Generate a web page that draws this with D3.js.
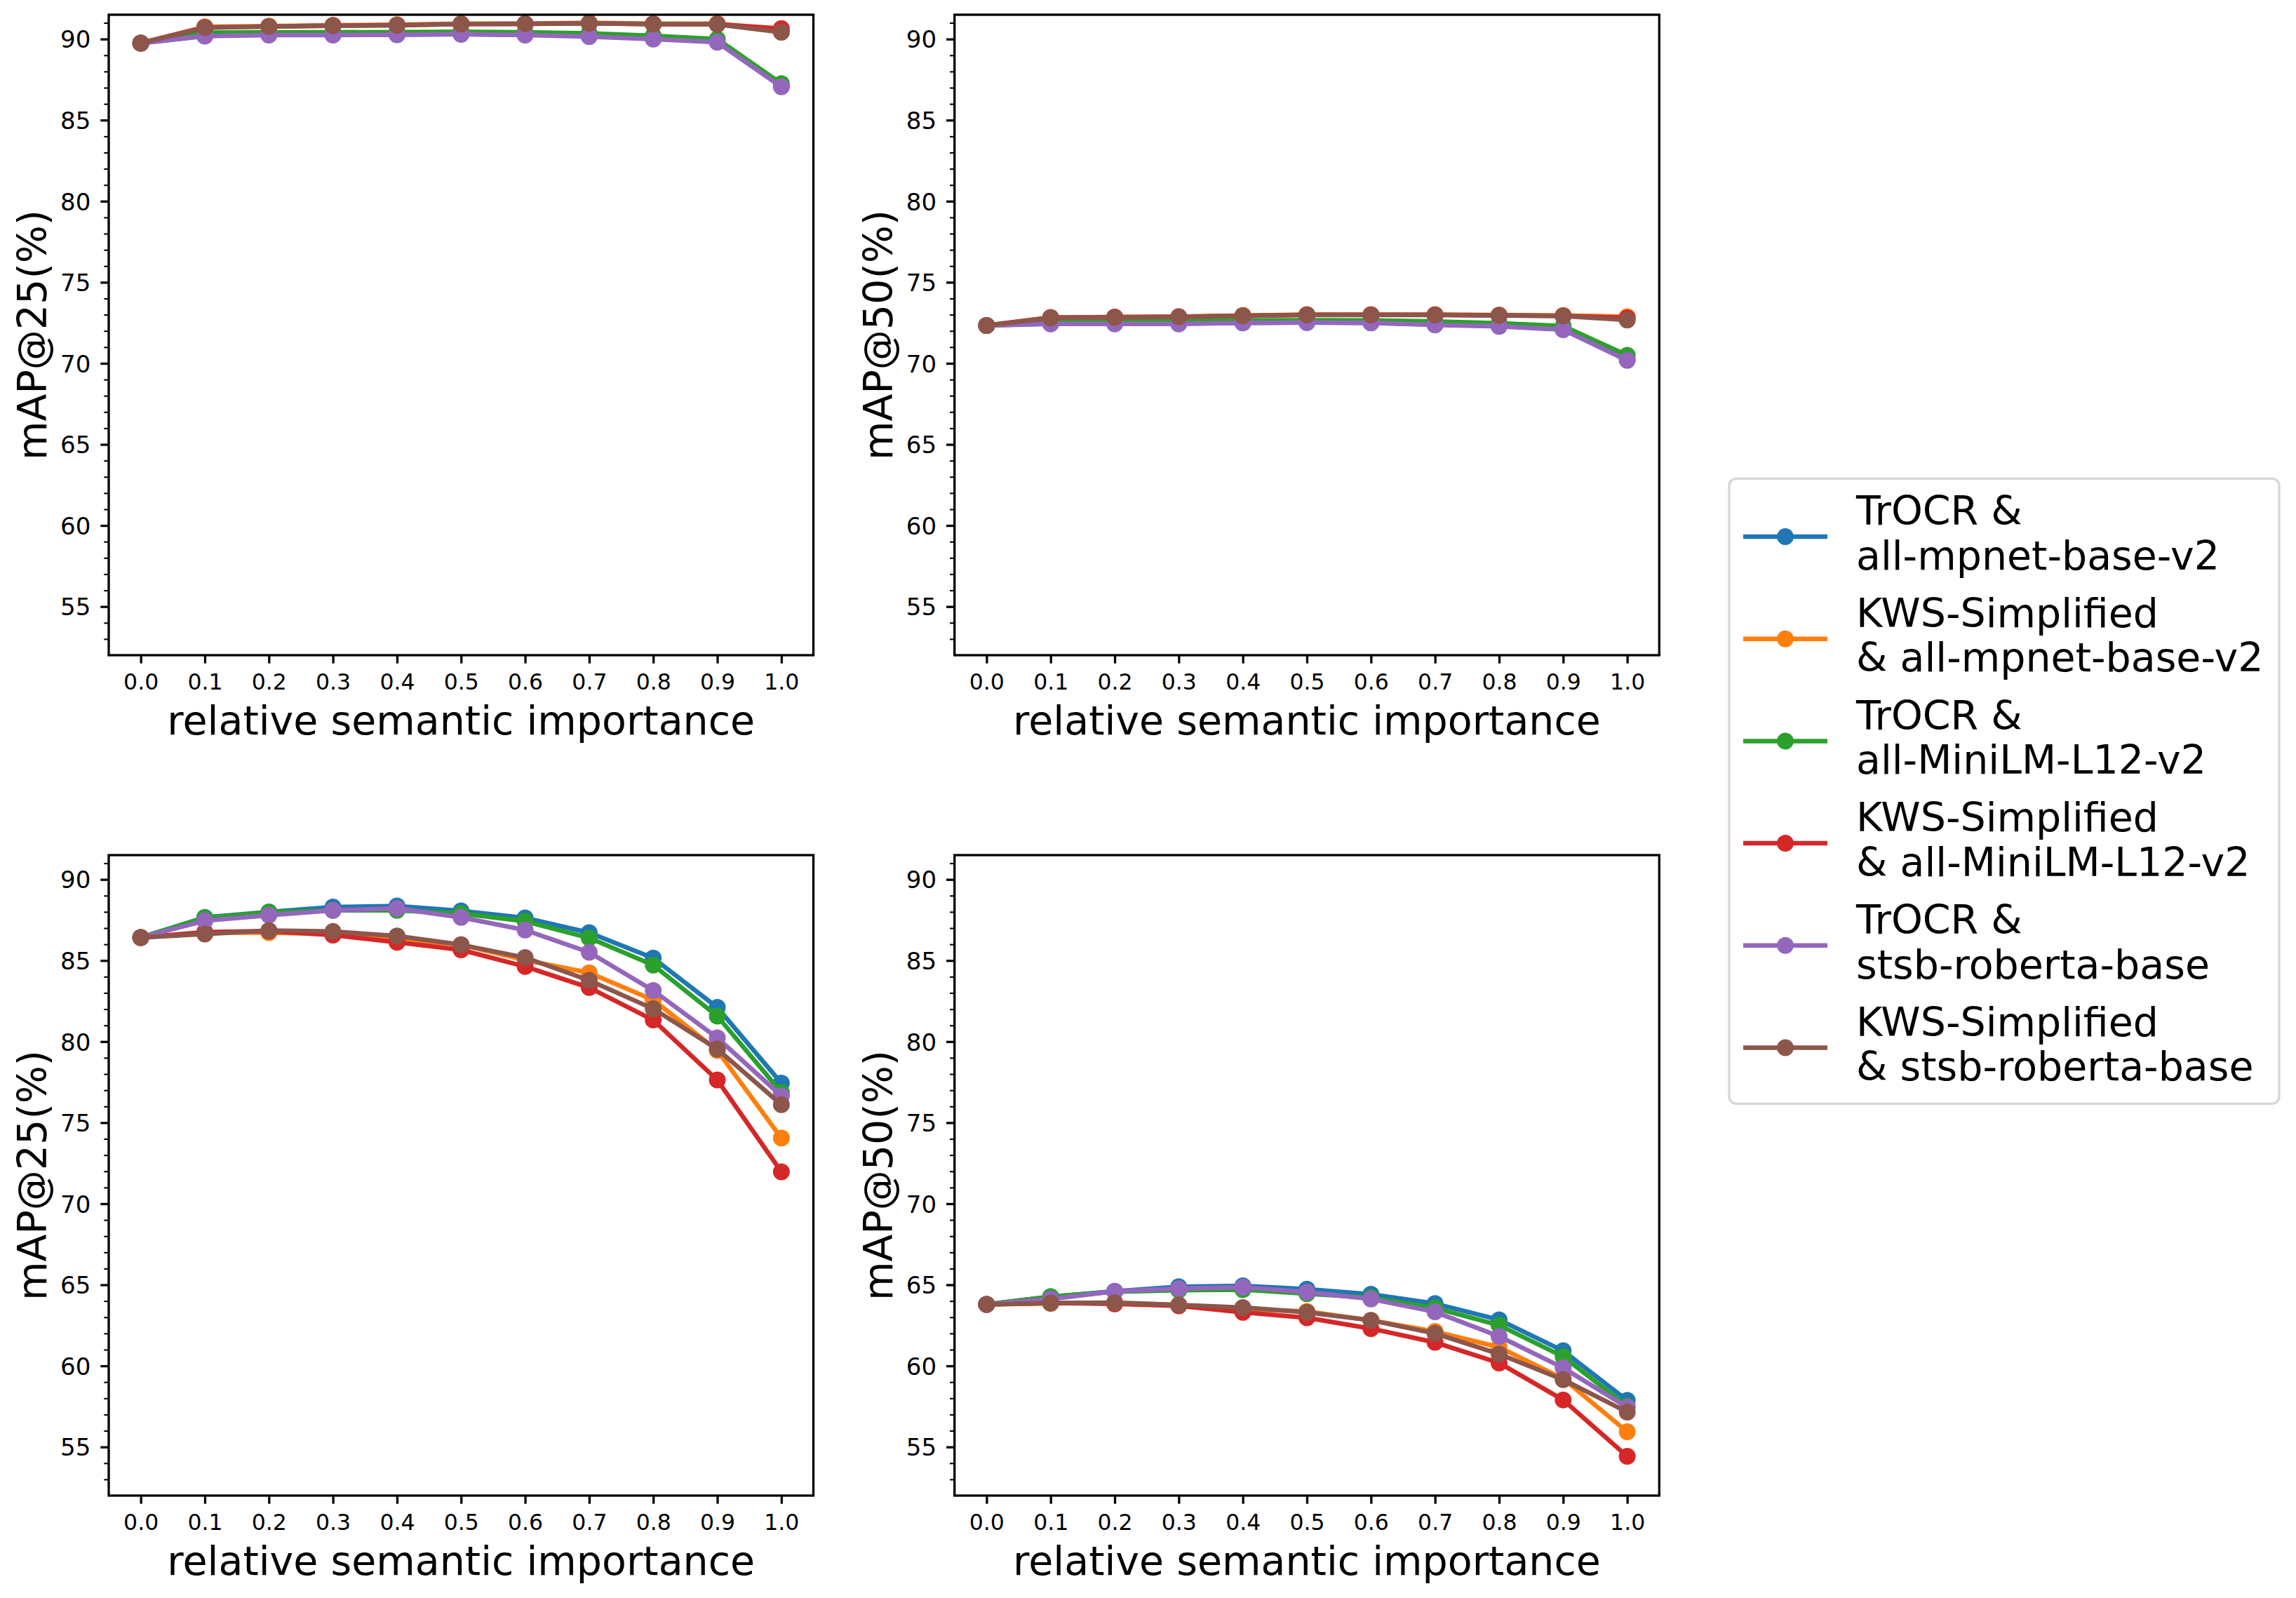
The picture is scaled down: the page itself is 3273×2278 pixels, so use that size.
<!DOCTYPE html>
<html>
<head>
<meta charset="utf-8">
<script src="https://cdn.jsdelivr.net/npm/d3@7"></script>
<style>
html, body { margin: 0; padding: 0; background: #ffffff; }
svg { display: block; }
text { font-family: "DejaVu Sans", sans-serif; fill: #000; }
</style>
</head>
<body>
<svg id="chart" width="3273" height="2278"></svg>
<script>
// ---------------- data ----------------
const xValues = [0.0, 0.1, 0.2, 0.3, 0.4, 0.5, 0.6, 0.7, 0.8, 0.9, 1.0];
const xTickLabels = ["0.0","0.1","0.2","0.3","0.4","0.5","0.6","0.7","0.8","0.9","1.0"];
const yMajorTicks = [55, 60, 65, 70, 75, 80, 85, 90];
const yMinorTicks = [53, 54, 56, 57, 58, 59, 61, 62, 63, 64, 66, 67, 68, 69, 71, 72, 73, 74, 76, 77, 78, 79, 81, 82, 83, 84, 86, 87, 88, 89, 91];

const seriesLabels = [
  ["TrOCR &", "all-mpnet-base-v2"],
  ["KWS-Simplified", "& all-mpnet-base-v2"],
  ["TrOCR &", "all-MiniLM-L12-v2"],
  ["KWS-Simplified", "& all-MiniLM-L12-v2"],
  ["TrOCR &", "stsb-roberta-base"],
  ["KWS-Simplified", "& stsb-roberta-base"]
];
const seriesColors = ["#1f77b4", "#ff7f0e", "#2ca02c", "#d62728", "#9467bd", "#8c564b"];

// rows: blue, orange, green, red, purple, brown
const topLeftMap25 = [
  [89.75, 90.20, 90.27, 90.27, 90.28, 90.30, 90.27, 90.20, 90.03, 89.82, 87.10],
  [89.75, 90.75, 90.80, 90.85, 90.88, 90.95, 90.95, 91.00, 90.95, 90.95, 90.55],
  [89.75, 90.40, 90.42, 90.42, 90.43, 90.45, 90.42, 90.35, 90.20, 90.00, 87.25],
  [89.75, 90.72, 90.78, 90.83, 90.86, 90.93, 90.93, 90.97, 90.92, 90.92, 90.65],
  [89.75, 90.18, 90.25, 90.25, 90.27, 90.30, 90.25, 90.15, 90.00, 89.80, 87.05],
  [89.75, 90.70, 90.77, 90.82, 90.85, 90.93, 90.95, 90.97, 90.93, 90.90, 90.42]
];
const topRightMap50 = [
  [72.33, 72.45, 72.45, 72.45, 72.50, 72.52, 72.50, 72.40, 72.30, 72.10, 70.25],
  [72.33, 72.83, 72.85, 72.87, 72.95, 73.00, 73.00, 73.00, 72.98, 72.95, 72.88],
  [72.33, 72.60, 72.62, 72.62, 72.65, 72.66, 72.65, 72.58, 72.48, 72.30, 70.50],
  [72.33, 72.82, 72.85, 72.87, 72.94, 72.99, 72.99, 72.99, 72.96, 72.93, 72.80],
  [72.33, 72.43, 72.43, 72.43, 72.50, 72.52, 72.50, 72.37, 72.28, 72.07, 70.18],
  [72.33, 72.80, 72.83, 72.86, 72.93, 72.98, 72.98, 72.98, 72.95, 72.92, 72.67]
];
const bottomLeftMap25 = [
  [86.42, 87.66, 88.00, 88.30, 88.36, 88.06, 87.63, 86.72, 85.15, 82.11, 77.44],
  [86.42, 86.72, 86.72, 86.63, 86.33, 85.97, 85.03, 84.24, 82.57, 79.45, 74.05],
  [86.42, 87.63, 87.97, 88.09, 88.09, 87.90, 87.42, 86.39, 84.72, 81.57, 76.87],
  [86.42, 86.75, 86.82, 86.57, 86.12, 85.66, 84.63, 83.33, 81.33, 77.63, 71.97],
  [86.42, 87.45, 87.79, 88.09, 88.21, 87.66, 86.88, 85.51, 83.15, 80.23, 76.65],
  [86.42, 86.63, 86.85, 86.79, 86.51, 85.97, 85.18, 83.78, 82.02, 79.54, 76.11]
];
const bottomRightMap50 = [
  [63.79, 64.27, 64.60, 64.88, 64.94, 64.73, 64.42, 63.84, 62.84, 60.93, 57.87],
  [63.79, 63.85, 63.90, 63.76, 63.51, 63.36, 62.81, 62.12, 61.15, 59.21, 55.94],
  [63.79, 64.27, 64.57, 64.67, 64.70, 64.45, 64.21, 63.57, 62.51, 60.57, 57.51],
  [63.79, 63.88, 63.82, 63.70, 63.30, 62.97, 62.30, 61.45, 60.18, 57.90, 54.42],
  [63.79, 64.12, 64.60, 64.76, 64.85, 64.55, 64.12, 63.33, 61.82, 59.88, 57.45],
  [63.79, 63.88, 63.90, 63.76, 63.60, 63.30, 62.81, 62.00, 60.73, 59.15, 57.15]
];

const yLabel25 = "mAP@25(%)";
const yLabel50 = "mAP@50(%)";
const xLabelText = "relative semantic importance";

// ---------------- layout ----------------
const panels = [
  { data: topLeftMap25,     ylabel: yLabel25, x0: 155,    x1: 1159.5, y0: 21,   y1: 934 },
  { data: topRightMap50,    ylabel: yLabel50, x0: 1360.7, x1: 2365.3, y0: 21,   y1: 934 },
  { data: bottomLeftMap25,  ylabel: yLabel25, x0: 155,    x1: 1159.5, y0: 1219, y1: 2132 },
  { data: bottomRightMap50, ylabel: yLabel50, x0: 1360.7, x1: 2365.3, y0: 1219, y1: 2132 }
];

const svg = d3.select("#chart");
const spineW = 3.3;
const lineW = 6.5;
const markerR = 12;
const labelFont = 57;

panels.forEach(p => {
  const x = d3.scaleLinear().domain([-0.05, 1.05]).range([p.x0, p.x1]);
  const y = d3.scaleLinear().domain([52, 91.5]).range([p.y1, p.y0]);
  const g = svg.append("g");

  // minor y ticks
  const yMinor = g.append("g").attr("transform", `translate(${p.x0},0)`)
    .call(d3.axisLeft(y).tickValues(yMinorTicks).tickSize(6.7).tickFormat(""));
  yMinor.select(".domain").remove();
  yMinor.selectAll("line").attr("stroke", "#000").attr("stroke-width", 2.1);

  // major y ticks
  const yAx = g.append("g").attr("transform", `translate(${p.x0},0)`)
    .call(d3.axisLeft(y).tickValues(yMajorTicks).tickSize(11.7).tickPadding(14).tickFormat(d3.format("d")));
  yAx.select(".domain").remove();
  yAx.selectAll("line").attr("stroke", "#000").attr("stroke-width", spineW);
  yAx.selectAll("text").attr("font-size", 34).attr("dy", "0.36em")
    .attr("font-family", "DejaVu Sans").attr("fill", "#000");

  // x ticks
  const xAx = g.append("g").attr("transform", `translate(0,${p.y1})`)
    .call(d3.axisBottom(x).tickValues(xValues).tickSize(11.7).tickPadding(14.6)
      .tickFormat((d, i) => xTickLabels[i]));
  xAx.select(".domain").remove();
  xAx.selectAll("line").attr("stroke", "#000").attr("stroke-width", spineW);
  xAx.selectAll("text").attr("font-size", 31.5)
    .attr("font-family", "DejaVu Sans").attr("fill", "#000");

  // series
  const line = d3.line().x((d, i) => x(xValues[i])).y(d => y(d));
  p.data.forEach((vals, si) => {
    const sg = g.append("g");
    sg.append("path").datum(vals).attr("d", line)
      .attr("fill", "none").attr("stroke", seriesColors[si])
      .attr("stroke-width", lineW).attr("stroke-linejoin", "round").attr("stroke-linecap", "butt");
    sg.selectAll("circle").data(vals).join("circle")
      .attr("cx", (d, i) => x(xValues[i])).attr("cy", d => y(d))
      .attr("r", markerR).attr("fill", seriesColors[si]);
  });

  // frame
  g.append("rect").attr("x", p.x0).attr("y", p.y0)
    .attr("width", p.x1 - p.x0).attr("height", p.y1 - p.y0)
    .attr("fill", "none").attr("stroke", "#000").attr("stroke-width", spineW);

  // x label
  g.append("text").attr("x", (p.x0 + p.x1) / 2).attr("y", p.y1 + 112.7)
    .attr("text-anchor", "middle").attr("font-size", labelFont).text(xLabelText);

  // y label
  const ly = (p.y0 + p.y1) / 2;
  const lx = p.x0 - 89;
  g.append("text").attr("transform", `translate(${lx},${ly}) rotate(-90)`)
    .attr("text-anchor", "middle").attr("font-size", labelFont).text(p.ylabel);
});

// ---------------- legend ----------------
const leg = svg.append("g");
leg.append("rect").attr("x", 2465).attr("y", 682.3).attr("width", 784).attr("height", 891)
  .attr("rx", 10).attr("ry", 10)
  .attr("fill", "#fff").attr("stroke", "#d6d6d6").attr("stroke-width", 3.3);

const legStep = 145.7;
seriesLabels.forEach((lab, i) => {
  const cy = 765 + i * legStep;
  leg.append("line").attr("x1", 2485).attr("x2", 2605).attr("y1", cy).attr("y2", cy)
    .attr("stroke", seriesColors[i]).attr("stroke-width", lineW);
  leg.append("circle").attr("cx", 2545).attr("cy", cy).attr("r", markerR).attr("fill", seriesColors[i]);
  const t = leg.append("text").attr("font-size", labelFont);
  t.append("tspan").attr("x", 2646).attr("y", cy - 16.7).text(lab[0]);
  t.append("tspan").attr("x", 2646).attr("y", cy + 46.7).text(lab[1]);
});
</script>
</body>
</html>
